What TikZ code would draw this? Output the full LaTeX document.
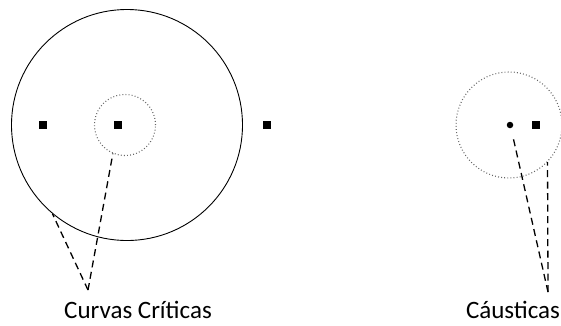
\documentclass[tikz,border=0pt]{standalone}
\usepackage{fontspec}
\setmainfont{Carlito}
\usetikzlibrary{positioning}
\begin{document}
\begin{tikzpicture}[x=1pt,y=-1pt,sq/.style={fill=black,inner sep=0pt,minimum size=7.5pt},crit/.style={draw,circle,inner sep=0pt,line width=0.9pt},caus/.style={draw=black!60,circle,inner sep=0pt,line width=1.1pt,dash pattern=on 0.9pt off 2.2pt},lead/.style={line width=1.3pt,dash pattern=on 7pt off 4.5pt},lbl/.style={font=\fontsize{25}{30}\selectfont,inner sep=0pt}]
\useasboundingbox (0,0) rectangle (561,325);
\node[crit,minimum size=231pt] (outer) at (127,125){};
\node[caus,minimum size=61pt] (inner) at (125,125){};
\node[sq] (left) at (43,125){};
\node[sq] (mid) at (118,125){};
\node[sq] (right) at (267,125){};
\node[caus,minimum size=106pt] (causring) at (509,125){};
\node[circle,fill=black,inner sep=0pt,minimum size=6.5pt] (src) at (510,125){};
\node[sq] (img) at (536,125){};
\node[lbl] (curvas) at (138,310){Curvas Críticas};
\node[lbl] (causticas) at (513,310){Cáusticas};
\coordinate (tipA) at (88,290);
\coordinate (tipB) at (548,292);
\coordinate (srcfoot) at (513,137);
\draw[lead] (tipA) -- (outer.230);
\draw[lead] (tipA) -- (inner.247);
\draw[lead] (tipB) -- (srcfoot);
\draw[lead] (tipB) -- (causring.-44);
\end{tikzpicture}
\end{document}
